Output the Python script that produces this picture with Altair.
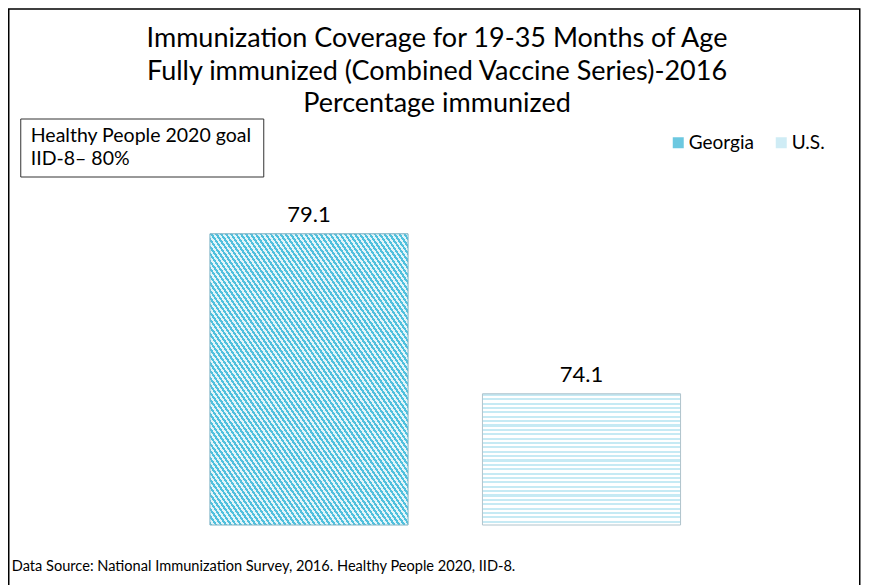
import altair as alt
import pandas as pd

# ---- data ----
categories = ["Georgia", "U.S."]
values = [79.1, 74.1]
value_labels = ["79.1", "74.1"]
legend_colors = ["#6cc8e0", "#cfecf5"]

title_lines = [
    "Immunization Coverage for 19-35 Months of Age",
    "Fully immunized (Combined Vaccine Series)-2016",
    "Percentage immunized",
]
goal_lines = ["Healthy People 2020 goal", "IID-8\u2013 80%"]
source_text = "Data Source:  National Immunization Survey, 2016. Healthy People 2020, IID-8."

df = pd.DataFrame({"region": categories, "pct": values, "label": value_labels})
one = pd.DataFrame({"k": [0]})

W, H = 545, 320
FONT = "Lato"


def stripes(c1, c2, k, x1, y1, x2, y2):
    stops = []
    for i in range(k):
        a = i / k
        m = (i + 0.5) / k
        b = (i + 1) / k
        stops += [
            alt.GradientStop(offset=a, color=c1),
            alt.GradientStop(offset=m, color=c1),
            alt.GradientStop(offset=m, color=c2),
            alt.GradientStop(offset=b, color=c2),
        ]
    return alt.LinearGradient(gradient="linear", stops=stops, x1=x1, y1=y1, x2=x2, y2=y2)


grad_ga = stripes("#50c0dd", "#e2f5fa", 80, 0, 1, 1, 0)
grad_us = stripes("#c6eaf4", "#ffffff", 30, 0, 0, 0, 1)

xenc = alt.X("region:N", sort=categories, axis=None,
             scale=alt.Scale(paddingInner=0.273, paddingOuter=0.1365))
yenc = alt.Y("pct:Q", axis=None, scale=alt.Scale(domain=[70, 80], zero=False))

base = alt.Chart(df)

legend_bars = base.mark_bar().encode(
    x=xenc, y=yenc, y2=alt.datum(70),
    color=alt.Color("region:N", sort=categories,
                    scale=alt.Scale(domain=categories, range=legend_colors),
                    legend=alt.Legend(orient="none", legendX=496, legendY=-72,
                                      direction="horizontal", title=None,
                                      symbolType="square", symbolSize=121,
                                      symbolStrokeWidth=0,
                                      labelFont=FONT, labelFontSize=19,
                                      labelColor="#000000", labelOffset=1,
                                      columnPadding=17)),
)

ga_bar = base.transform_filter(alt.datum.region == "Georgia").mark_bar(
    fill=grad_ga, stroke="#7fb3c4", strokeWidth=1
).encode(x=xenc, y=yenc, y2=alt.datum(70))

us_bar = base.transform_filter(alt.datum.region == "U.S.").mark_bar(
    fill=grad_us, stroke="#b0c4cc", strokeWidth=1
).encode(x=xenc, y=yenc, y2=alt.datum(70))

bar_labels = base.mark_text(font=FONT, fontSize=22, baseline="alphabetic",
                            dy=-12, color="#000000").encode(
    x=xenc, y=yenc, text="label:N")

oc = alt.Chart(one)
frame = oc.mark_rect(fill=None, stroke="#000000", strokeWidth=1.5).encode(
    x=alt.value(-164), x2=alt.value(687), y=alt.value(-196), y2=alt.value(420))

title_ys = [-158, -125, -93]
title_marks = [
    oc.mark_text(font=FONT, fontSize=27, align="center", baseline="alphabetic",
                 color="#000000").encode(
        x=alt.value(264.25), y=alt.value(ty), text=alt.value(t))
    for t, ty in zip(title_lines, title_ys)
]

goal_box = oc.mark_rect(fill="white", stroke="#333333", strokeWidth=1).encode(
    x=alt.value(-152), x2=alt.value(91), y=alt.value(-86), y2=alt.value(-28))

goal_text1 = oc.mark_text(font=FONT, fontSize=19.5, align="left", baseline="alphabetic",
                          color="#000000").encode(
    x=alt.value(-142), y=alt.value(-63), text=alt.value(goal_lines[0]))
goal_text2 = oc.mark_text(font=FONT, fontSize=19.5, align="left", baseline="alphabetic",
                          color="#000000").encode(
    x=alt.value(-142), y=alt.value(-40), text=alt.value(goal_lines[1]))

source = oc.mark_text(font=FONT, fontSize=14.6, align="left", baseline="alphabetic",
                      color="#000000").encode(
    x=alt.value(-161), y=alt.value(366), text=alt.value(source_text))

chart = alt.layer(
    frame, *title_marks, legend_bars, ga_bar, us_bar, bar_labels,
    goal_box, goal_text1, goal_text2, source,
).properties(
    width=W, height=H,
    background="white",
    autosize=alt.AutoSizeParams(type="none"),
    padding={"left": 164.75, "top": 197, "right": 143.25, "bottom": 60},
).configure_view(stroke=None)

chart.save("out.html", embed_options={"renderer": "svg", "actions": False})
